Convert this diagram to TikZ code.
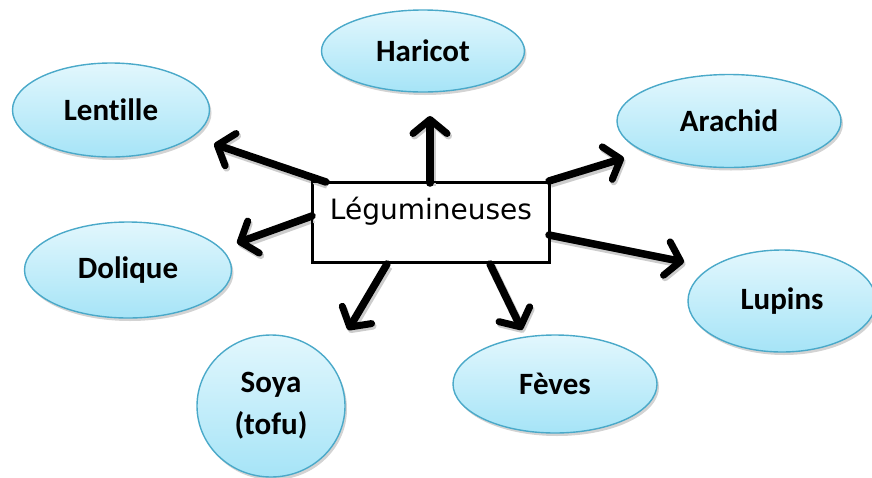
\documentclass[tikz,border=0pt]{standalone}
\usepackage{fontspec}
\setmainfont[Ligatures=NoCommon]{Carlito}
\newfontfamily\boxfont{DejaVu Sans}
\usetikzlibrary{arrows.meta,shadows,shapes.geometric}
\definecolor{elltop}{HTML}{E2F7FD}
\definecolor{ellbot}{HTML}{A6E4F7}
\definecolor{ellline}{HTML}{4AA9C9}
\tikzset{
  leg/.style={ellipse, draw=ellline, line width=1.4pt, top color=elltop, bottom color=ellbot,
    drop shadow={opacity=0.35, shadow xshift=2pt, shadow yshift=-3pt},
    inner sep=0pt, font=\bfseries\fontsize{31}{42}\selectfont, align=center},
  fleche/.style={line width=7.5pt, line cap=round, line join=round,
    -{Straight Barb[length=14pt,width=34pt,line width=7pt,line cap=round,line join=round]},
    preaction={draw=black!20, line width=8.5pt, transform canvas={shift={(1.5pt,-2.5pt)}}}},
}
\begin{document}
\begin{tikzpicture}[x=1pt,y=-1pt]
\useasboundingbox (0,0) rectangle (872,477);
\node[leg, minimum width=203pt, minimum height=82pt] (har) at (423,51) {Haricot};
\node[leg, minimum width=197pt, minimum height=94pt] (len) at (111,110) {Lentille};
\node[leg, minimum width=224pt, minimum height=93pt] (ara) at (729,121) {Arachid};
\node[leg, minimum width=207pt, minimum height=96pt] (dol) at (128,270) {Dolique};
\node[leg, minimum width=188pt, minimum height=102pt] (lup) at (782,301) {Lupins};
\node[leg, minimum width=148pt, minimum height=142pt] (soy) at (271,406) {Soya\\(tofu)};
\node[leg, minimum width=204pt, minimum height=98pt] (fev) at (555,384) {Fèves};
\node[draw=black, line width=2pt, fill=white, minimum width=236pt, minimum height=79pt,
  drop shadow={opacity=0.25, shadow xshift=2pt, shadow yshift=-2pt}] (box) at (431,222.5) {};
\node[font=\boxfont\fontsize{28}{32}\selectfont] (lbl) at (431,211) {Légumineuses};
% arrow ends
\coordinate (tH) at (430,183); \coordinate (pH) at (430,116);
\coordinate (tL) at (326,182); \coordinate (pL) at (214,144);
\coordinate (tA) at (549,181); \coordinate (pA) at (624,158);
\coordinate (tU) at (549,235); \coordinate (pU) at (684,262);
\coordinate (tF) at (490,264); \coordinate (pF) at (522,330);
\coordinate (tS) at (387,264); \coordinate (pS) at (348,330);
\coordinate (tD) at (312,216); \coordinate (pD) at (237,243);
\foreach \a/\b in {tH/pH,tL/pL,tA/pA,tU/pU,tF/pF,tS/pS,tD/pD}
  \draw[fleche] (\a) -- (\b);
\draw[line width=2pt] (box.north west) rectangle (box.south east);
\end{tikzpicture}
\end{document}
